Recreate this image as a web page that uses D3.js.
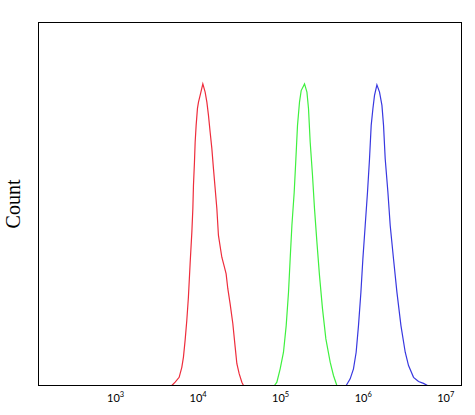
<!DOCTYPE html>
<html>
<head>
<meta charset="utf-8">
<script src="https://d3js.org/d3.v7.min.js"></script>
<style>
  body { margin: 0; background: #fff; }
  .tick text { font-family: Lato, "Open Sans", sans-serif; }
</style>
</head>
<body>
<div id="chart-area"></div>
<script>
  // Fluorescence intensity (x) and count (y)
  var redX = [4860, 5340, 5970, 6430, 6730, 7050, 7390, 7730, 8110, 8510, 8750, 8900, 9150, 9330, 9590, 9950,
              10240, 10720, 11560, 12330, 12940, 13530, 14180, 14870, 15550, 16300, 17090, 17870, 19640, 21120,
              22140, 23210, 24760, 26700, 28500, 29880, 31850, 34330, 35910];
  var redY = [0, 1.1, 2.7, 6.0, 9.4, 14.9, 21.5, 29.2, 40.3, 50.7, 58.5, 66.1, 73.8, 80.4, 86.0, 91.6,
              93.7, 95.9, 99.7, 97.0, 93.7, 89.3, 83.7, 78.3, 71.7, 65.1, 58.5, 49.6, 42.4, 39.1,
              36.9, 32.0, 27.0, 20.4, 12.7, 7.2, 3.9, 1.1, 0];

  var greenX = [85300, 91200, 100000, 109700, 118300, 126200, 132200, 138700, 147900, 155000, 162200, 171500,
                179700, 197300, 211000, 220500, 231100, 246500, 260700, 278700, 299400, 325600, 357800,
                403500, 442500, 486200];
  var greenY = [0, 1.1, 5.5, 11.0, 19.8, 30.8, 41.9, 52.9, 63.9, 74.9, 86.0, 93.7,
                97.5, 99.7, 97.0, 91.5, 80.4, 69.4, 58.4, 47.4, 36.4, 25.4, 15.4,
                7.7, 3.3, 0];

  var blueX = [631000, 705000, 773000, 833000, 889000, 951000, 1005000, 1072000, 1143000, 1209000, 1267000,
               1329000, 1390000, 1486000, 1599000, 1710000, 1788000, 1874000, 2020000, 2154000, 2361000,
               2599000, 2906000, 3275000, 3591000, 4130000, 4746000, 5454000, 6095000];
  var blueY = [0, 2.2, 5.5, 11.0, 19.8, 30.8, 41.9, 52.9, 63.9, 74.9, 86.0,
               91.5, 95.9, 99.4, 97.0, 92.6, 86.0, 74.9, 63.9, 52.9, 41.9,
               30.8, 19.8, 11.0, 6.6, 2.7, 1.3, 0.7, 0];

  var tickValues = [1e3, 1e4, 1e5, 1e6, 1e7];
  var tickExponents = ['3', '4', '5', '6', '7'];
  var yTitle = 'Count';

  function create_chart() {
    var margin = {left: 38.5, right: 13.5, top: 22.5, bottom: 29.5};
    var width = 475 - margin.left - margin.right,
        height = 415 - margin.top - margin.bottom;

    var svg = d3.select('#chart-area')
                .append('svg')
                .attr('width', 475)
                .attr('height', 415);
    var g = svg.append('g')
               .attr('transform', 'translate(' + margin.left + ',' + margin.top + ')');

    // Scales
    var x = d3.scaleLog()
              .domain([118, 1.574e7])
              .range([0, width]);
    var y = d3.scaleLinear()
              .domain([0, 120])
              .range([height, 0]);

    // Histograms
    var line = d3.line()
        .x(function(d) { return x(d[0]); })
        .y(function(d) { return y(d[1]); });

    var series = [
      {xs: redX, ys: redY, color: '#ee2d3c'},
      {xs: greenX, ys: greenY, color: '#3ff03f'},
      {xs: blueX, ys: blueY, color: '#3838e0'}
    ];
    series.forEach(function(s) {
      g.append('path')
        .attr('fill', 'none')
        .attr('stroke', s.color)
        .attr('stroke-width', 1.2)
        .attr('d', line(d3.zip(s.xs, s.ys)));
    });

    // Frame
    g.append('rect')
      .attr('width', width)
      .attr('height', height)
      .attr('fill', 'none')
      .attr('stroke', '#000')
      .attr('stroke-width', 1);

    // X axis, labels only
    var xAxisCall = d3.axisBottom(x)
                      .tickValues(tickValues)
                      .tickSize(0)
                      .tickFormat('');
    var xAxis = g.append('g')
      .attr('transform', 'translate(0,' + height + ')')
      .call(xAxisCall);
    xAxis.select('.domain').remove();
    xAxis.selectAll('.tick text')
      .attr('y', 16)
      .attr('dy', 0)
      .attr('fill', '#000')
      .attr('font-size', '11px')
      .each(function(d, i) {
        var t = d3.select(this);
        t.append('tspan').text('10');
        t.append('tspan')
          .attr('dy', -4.5)
          .attr('font-size', '7.5px')
          .text(tickExponents[i]);
      });

    // Y label
    svg.append('text')
      .attr('transform', 'translate(20,204) rotate(-90)')
      .attr('text-anchor', 'middle')
      .attr('font-family', '"Liberation Serif", serif')
      .attr('font-size', '20px')
      .attr('fill', '#000')
      .text(yTitle);
  }

  create_chart();
</script>
</body>
</html>
